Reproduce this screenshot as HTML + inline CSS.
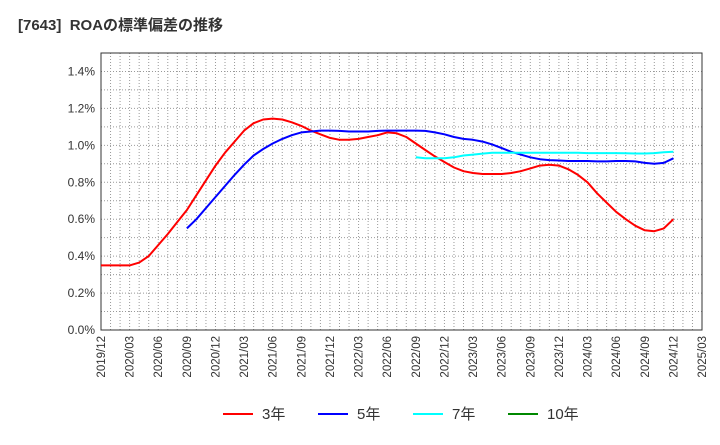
<!DOCTYPE html>
<html><head><meta charset="utf-8"><style>
body{margin:0;background:#fff;font-family:"Liberation Sans","Noto Sans CJK JP",sans-serif}
</style></head><body>
<svg width="720" height="440" xmlns="http://www.w3.org/2000/svg">
<text x="18" y="30" font-size="15" font-weight="bold" fill="#333" font-family="Liberation Sans, Noto Sans CJK JP, sans-serif">[7643]&#160;&#160;ROAの標準偏差の推移</text>
<g id="grid"></g><g id="axes"></g><g id="series"></g>
<g font-size="15" fill="#333" font-family="Liberation Sans, Noto Sans CJK JP, sans-serif">
<line x1="223" y1="414" x2="253" y2="414" stroke="#f00" stroke-width="2"/><text x="262" y="419">3年</text>
<line x1="318" y1="414" x2="348" y2="414" stroke="#00f" stroke-width="2"/><text x="357" y="419">5年</text>
<line x1="413" y1="414" x2="443" y2="414" stroke="#0ff" stroke-width="2"/><text x="452" y="419">7年</text>
<line x1="508" y1="414" x2="538" y2="414" stroke="#080" stroke-width="2"/><text x="547" y="419">10年</text>
</g>
</svg>
<script>
const xTickLabels=["2019/12","2020/03","2020/06","2020/09","2020/12","2021/03","2021/06","2021/09","2021/12","2022/03","2022/06","2022/09","2022/12","2023/03","2023/06","2023/09","2023/12","2024/03","2024/06","2024/09","2024/12","2025/03"];
const yTicks=[0,0.2,0.4,0.6,0.8,1.0,1.2,1.4];
const red3=[.35,.35,.35,.35,.365,.40,.46,.52,.585,.65,.73,.81,.89,.96,1.02,1.08,1.12,1.14,1.145,1.14,1.125,1.105,1.08,1.06,1.04,1.03,1.03,1.035,1.045,1.055,1.07,1.065,1.045,1.01,.975,.94,.91,.88,.86,.85,.845,.845,.845,.85,.86,.875,.89,.895,.89,.87,.84,.80,.74,.69,.64,.60,.565,.54,.535,.55,.60];
const blue5=[.55,.60,.66,.72,.78,.84,.895,.945,.98,1.01,1.035,1.055,1.07,1.075,1.08,1.08,1.078,1.075,1.075,1.075,1.078,1.08,1.08,1.08,1.08,1.078,1.07,1.06,1.045,1.035,1.03,1.02,1.005,.985,.965,.95,.935,.925,.92,.918,.915,.915,.915,.913,.913,.915,.915,.913,.905,.90,.905,.93];
const cyan7=[.935,.93,.93,.93,.935,.945,.95,.955,.96,.96,.96,.96,.96,.96,.96,.96,.96,.96,.958,.958,.958,.958,.957,.956,.956,.958,.963,.965];
const L=101,R=702,T=53,B=330,NM=63;
const X=m=>L+(R-L)*m/NM;
const Y=v=>B-(B-T)*v/1.5;
const ns="http://www.w3.org/2000/svg";
function mk(p,t,a){const e=document.createElementNS(ns,t);for(const k in a)e.setAttribute(k,a[k]);p.appendChild(e);return e;}
const g=document.getElementById('grid'),ax=document.getElementById('axes'),s=document.getElementById('series');
for(let m=1;m<NM;m++){const l=mk(g,'line',{x1:X(m),x2:X(m),y1:T,y2:B,stroke:'#999','stroke-width':1,'stroke-dasharray':'1,2'});

}
for(let i=1;i<15;i++){const l=mk(g,'line',{x1:L,x2:R,y1:Y(i/10),y2:Y(i/10),stroke:'#999','stroke-width':1,'stroke-dasharray':'1,2'});

}
const fr=mk(ax,'rect',{x:L,y:T,width:R-L,height:B-T,fill:'none',stroke:'#333','stroke-width':1});


yTicks.forEach(v=>{const t=mk(ax,'text',{x:L-6,y:Y(v)+4,'text-anchor':'end','font-size':12,fill:'#333'});t.textContent=v.toFixed(1)+'%';

});
xTickLabels.forEach((lb,i)=>{const x=X(i*3);const t=mk(ax,'text',{transform:`translate(${x+4},${B+6}) rotate(-90)`,'text-anchor':'end','font-size':11.5,fill:'#333'});t.textContent=lb;

});
function line(arr,off,col,name){const d=arr.map((v,i)=>(i?'L':'M')+X(i+off).toFixed(1)+','+Y(v).toFixed(1)).join('');
const p=mk(s,'path',{d,fill:'none',stroke:col,'stroke-width':2,'stroke-linejoin':'round'});

}
line(red3,0,'#f00','series-3y');
line(blue5,9,'#00f','series-5y');
line(cyan7,33,'#0ff','series-7y');
</script>
</body></html>
